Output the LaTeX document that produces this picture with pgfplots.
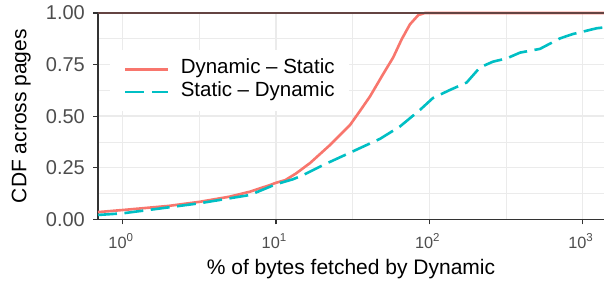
\documentclass[border=0pt]{standalone}
\usepackage{fontspec}
\setmainfont{Liberation Sans}
\usepackage{pgfplots}
\pgfplotsset{compat=1.18}
\definecolor{cred}{HTML}{F8766D}
\definecolor{ccyan}{HTML}{00BFC4}
\definecolor{gridc}{HTML}{EBEBEB}
\definecolor{tickc}{HTML}{333333}
\definecolor{labc}{HTML}{4D4D4D}
\newcommand{\xtl}[1]{\fontsize{16.3}{18}\selectfont 10\raisebox{6.7pt}{\fontsize{11.5}{12}\selectfont #1}}
\begin{document}
\begin{tikzpicture}
\begin{axis}[
  scale only axis, width=506pt, height=206.3pt,
  xmode=log, xmin=0.69, xmax=1380, ymin=0, ymax=1,
  clip=false,
  axis x line*=bottom, axis y line*=left,
  axis line style={tickc, line width=1.1pt, -},
  xtick={1,10,100,1000},
  xticklabels={\xtl{0},\xtl{1},\xtl{2},\xtl{3}},
  minor xtick={3.1623,31.623,316.23},
  ytick={0,0.25,0.5,0.75,1},
  yticklabels={0.00,0.25,0.50,0.75,1.00},
  minor ytick={0.125,0.375,0.625,0.875},
  grid=both,
  major grid style={gridc, line width=1.3pt},
  minor grid style={gridc, line width=0.7pt},
  tick align=outside,
  major tick length=5pt, minor tick length=0pt,
  tick style={tickc, line width=1.1pt},
  yticklabel style={anchor=east, inner sep=0pt, color=labc, xshift=-8pt, font=\fontsize{20}{24}\selectfont},
  xticklabel style={anchor=north, inner sep=0pt, color=labc, xshift=-2pt, yshift=-9pt},
  xlabel={\% of bytes fetched by Dynamic},
  ylabel={CDF across pages},
  every axis x label/.style={at={(rel axis cs:0.5,0)}, anchor=base, yshift=-55.7pt, inner sep=0pt, font=\fontsize{21}{25}\selectfont},
  every axis y label/.style={at={(rel axis cs:0,0.5)}, xshift=-67pt, rotate=90, anchor=south, inner sep=0pt, font=\fontsize{21}{25}\selectfont},
  legend style={at={(0.0237,0.82)}, anchor=north west, draw=none, fill=white,
    inner xsep=14pt, inner ysep=8pt, row sep=0pt, column sep=11pt,
    font=\fontsize{20.5}{25}\selectfont,
    nodes={inner sep=0pt, text height=15.5pt, text depth=7pt, anchor=west}},
  legend cell align=left,
  legend image code/.code={\draw[#1] (0pt,0pt) -- (43pt,0pt);},
]
\addplot[cred, line width=2.6pt, line join=round] coordinates {
(0.69,0.035) (1,0.045) (2,0.065) (3.19,0.085) (5,0.11) (6.77,0.134)
(9.14,0.166) (10,0.177) (11.5,0.19) (13.5,0.222) (16.7,0.273) (22.5,0.36)
(26.1,0.408) (30.4,0.457) (35.3,0.525) (41,0.595) (50.1,0.705)
(58.2,0.785) (66,0.872) (74.8,0.945) (84.8,0.99) (93.7,1.0) (1380,1.0)
};
\addlegendentry{Dynamic -- Static}
\addplot[ccyan, line width=2.6pt, dash pattern=on 19pt off 7.5pt, line join=round] coordinates {
(0.69,0.021) (1,0.029) (2,0.058) (3.19,0.078) (6.77,0.118) (10,0.17)
(12.9,0.194) (15.1,0.215) (20.3,0.263) (31.9,0.33) (47.7,0.39) (64.4,0.45)
(86.9,0.53) (105.7,0.588) (136.5,0.627) (175.4,0.663) (214,0.736) (260,0.764)
(320,0.78) (391,0.808) (527,0.826) (713,0.877) (865,0.898) (1236,0.926) (1380,0.93)
};
\addlegendentry{Static -- Dynamic}
\draw[tickc!75!cred, line width=1.1pt] (rel axis cs:0,1) -- (rel axis cs:1,1);
\end{axis}
\pgfresetboundingbox
\path (-98pt,-63.7pt) rectangle (506pt,219.3pt);
\end{tikzpicture}
\end{document}
